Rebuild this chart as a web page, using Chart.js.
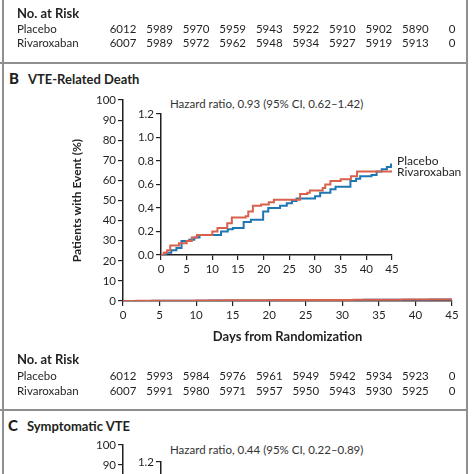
<!DOCTYPE html>
<html>
<head>
<meta charset="utf-8">
<script src="https://cdn.jsdelivr.net/npm/chart.js@4.4.1/dist/chart.umd.min.js"></script>
<style>
  html, body { margin: 0; padding: 0; background: #fff; }
  #page { position: relative; width: 474px; height: 474px; overflow: hidden; font-family: Lato, sans-serif; color: #231f20; }
  canvas { position: absolute; }
  .rule { position: absolute; background: #8f8f8f; }
  .panel { position: absolute; font-weight: bold; font-size: 13px; line-height: 16px; white-space: nowrap; }
  .panel b { font-size: 15px; margin-right: 9px; }
  .hr { position: absolute; font-size: 11.5px; line-height: 14px; white-space: nowrap; color: #333; }
</style>
</head>
<body>
<div id="page">
  <div class="rule" style="left:2px;top:0;width:2px;height:474px"></div>
  <div class="rule" style="left:466px;top:0;width:2px;height:474px"></div>
  <div class="rule" style="left:0;top:62px;width:468px;height:2px"></div>
  <div class="rule" style="left:0;top:409px;width:468px;height:2px"></div>

  <div class="panel" style="left:9px;top:70px"><b>B</b>VTE-Related Death</div>
  <div class="hr" style="left:170px;top:97px">Hazard ratio, 0.93 (95% CI, 0.62–1.42)</div>

  <div class="panel" style="left:8px;top:417px"><b>C</b>Symptomatic VTE</div>
  <div class="hr" style="left:170px;top:443px">Hazard ratio, 0.44 (95% CI, 0.22–0.89)</div>

  <canvas id="outerB" width="474" height="410" style="left:0;top:0"></canvas>
  <canvas id="innerB" width="350" height="190" style="left:120px;top:100px"></canvas>
  <canvas id="outerC" width="474" height="300" style="left:0;top:411px"></canvas>
  <canvas id="innerC" width="350" height="220" style="left:120px;top:420px"></canvas>
</div>

<script>
// VTE-related death, cumulative %
const placeboDays = [0, 1, 2, 3, 4, 5.5, 6.5, 7.5, 11.7, 13, 14, 16.1, 17.5, 19.9, 20.9, 23.2, 24.5, 25.5, 26.4, 30, 31, 33, 34, 36.9, 38, 38.8, 41, 42, 43, 44, 44.8, 45];
const placeboPct  = [0, 0.02, 0.04, 0.06, 0.12, 0.13, 0.15, 0.17, 0.20, 0.22, 0.23, 0.28, 0.30, 0.37, 0.40, 0.42, 0.44, 0.46, 0.48, 0.50, 0.53, 0.56, 0.58, 0.63, 0.65, 0.67, 0.68, 0.71, 0.73, 0.75, 0.77, 0.77];
const rivaDays = [0, 0.5, 1.2, 1.8, 3.5, 5, 6, 7, 10, 11, 12.9, 13.8, 16.5, 17, 17.9, 19.5, 21, 22, 27.1, 28.5, 29, 31.5, 32, 33, 35, 37, 38.2, 45];
const rivaPct  = [0, 0.02, 0.04, 0.08, 0.10, 0.12, 0.15, 0.17, 0.20, 0.23, 0.27, 0.32, 0.33, 0.37, 0.42, 0.43, 0.45, 0.47, 0.52, 0.53, 0.55, 0.57, 0.60, 0.63, 0.645, 0.67, 0.71, 0.71];

// numbers at risk
const riskDays = [0, 5, 10, 15, 20, 25, 30, 35, 40, 45];
const riskA_placebo = [6012, 5989, 5970, 5959, 5943, 5922, 5910, 5902, 5890, 0];
const riskA_riva    = [6007, 5989, 5972, 5962, 5948, 5934, 5927, 5919, 5913, 0];
const riskB_placebo = [6012, 5993, 5984, 5976, 5961, 5949, 5942, 5934, 5923, 0];
const riskB_riva    = [6007, 5991, 5980, 5971, 5957, 5950, 5943, 5930, 5925, 0];

const RED = 'rgb(214,98,78)';
const BLUE = 'rgb(30,118,178)';
const INK = '#231f20';
const FONT = 'Lato';

function pts(xs, ys){ return xs.map((x, i) => ({x: x, y: ys[i]})); }

// rivaroxaban first so the red line sits on top, like the original
function curves(){
  return [
    { label: 'Rivaroxaban', data: pts(rivaDays, rivaPct), borderColor: RED, borderWidth: 2, stepped: 'before', pointRadius: 0, fill: false, labelShift: 1 },
    { label: 'Placebo', data: pts(placeboDays, placeboPct), borderColor: BLUE, borderWidth: 2, stepped: 'before', pointRadius: 0, fill: false, labelShift: -3 }
  ];
}

function axis(min, max, step, opts){
  return Object.assign({
    type: 'linear', min: min, max: max,
    ticks: { stepSize: step, color: INK, font: { family: FONT, size: 11.5 }, padding: 2, autoSkip: false, maxRotation: 0 },
    grid: { drawOnChartArea: false, drawTicks: true, tickLength: 5, color: INK, lineWidth: 1.2 },
    border: { display: true, color: INK, width: 1.5 }
  }, opts);
}

function outerConfig(datasets, pad){
  return {
    type: 'line',
    data: { datasets: datasets },
    options: {
      responsive: false, animation: false,
      layout: { padding: pad },
      plugins: { legend: { display: false }, tooltip: { enabled: false } },
      scales: {
        x: axis(0, 45, 5, {
          title: { display: true, text: 'Days from Randomization', color: INK, font: { family: FONT, size: 13, weight: 'bold' }, padding: { top: 0, bottom: 0 } },
          afterFit: s => { s.height = 44; }
        }),
        y: axis(0, 100, 10, {
          title: { display: true, text: 'Patients with Event (%)', color: INK, font: { family: FONT, size: 12, weight: 'bold' }, padding: { top: 70, bottom: 0 } },
          afterFit: s => { s.width = 123; }
        })
      }
    }
  };
}

function innerConfig(datasets, pad, endLabels){
  return {
    type: 'line',
    data: { datasets: datasets },
    options: {
      responsive: false, animation: false,
      layout: { padding: pad },
      plugins: { legend: { display: false }, tooltip: { enabled: false } },
      scales: {
        x: axis(0, 45, 5, { afterFit: s => { s.height = 35; } }),
        y: axis(0, 1.2, 0.2, {
          ticks: { stepSize: 0.2, color: INK, font: { family: FONT, size: 11.5 }, padding: 2, callback: v => v.toFixed(1) },
          afterFit: s => { s.width = 41; }
        })
      }
    },
    plugins: endLabels ? [endLabels] : []
  };
}

// series names next to the curve ends
const endLabels = {
  id: 'endLabels',
  afterDatasetsDraw(chart){
    const ctx = chart.ctx, xs = chart.scales.x, ys = chart.scales.y;
    ctx.save();
    ctx.font = '12px ' + FONT;
    ctx.fillStyle = INK;
    ctx.textBaseline = 'middle';
    chart.data.datasets.forEach(ds => {
      const last = ds.data[ds.data.length - 1];
      ctx.fillText(ds.label, xs.getPixelForValue(45) + 5, ys.getPixelForValue(last.y) + ds.labelShift);
    });
    ctx.restore();
  }
};

// "No. at Risk" tables lined up with the day ticks
const riskTables = {
  id: 'riskTables',
  afterDraw(chart){
    const ctx = chart.ctx, xs = chart.scales.x;
    const rows = [
      { y: 14, name: 'No. at Risk', bold: true },
      { y: 29, name: 'Placebo', vals: riskA_placebo },
      { y: 43, name: 'Rivaroxaban', vals: riskA_riva },
      { y: 360, name: 'No. at Risk', bold: true },
      { y: 376, name: 'Placebo', vals: riskB_placebo },
      { y: 391, name: 'Rivaroxaban', vals: riskB_riva }
    ];
    ctx.save();
    ctx.fillStyle = INK;
    ctx.textBaseline = 'middle';
    rows.forEach(r => {
      ctx.font = (r.bold ? 'bold 13px ' : '11.5px ') + FONT;
      ctx.textAlign = 'left';
      ctx.fillText(r.name, 17, r.y);
      if (r.vals) {
        ctx.textAlign = 'center';
        r.vals.forEach((v, i) => ctx.fillText(String(v), xs.getPixelForValue(riskDays[i]), r.y));
      }
    });
    ctx.restore();
  }
};

const cfgB = outerConfig(curves(), { top: 100, bottom: 65, left: 0, right: 22 });
cfgB.plugins = [riskTables];
new Chart(document.getElementById('outerB'), cfgB);
new Chart(document.getElementById('innerB'), innerConfig(curves(), { top: 14, bottom: 0, left: 0, right: 78 }, endLabels));

// panel C is cut off by the frame; only its top ticks show
new Chart(document.getElementById('outerC'), outerConfig([], { top: 34, bottom: 22, left: 0, right: 22 }));
new Chart(document.getElementById('innerC'), innerConfig([], { top: 42, bottom: 0, left: 0, right: 78 }));
</script>
</body>
</html>
